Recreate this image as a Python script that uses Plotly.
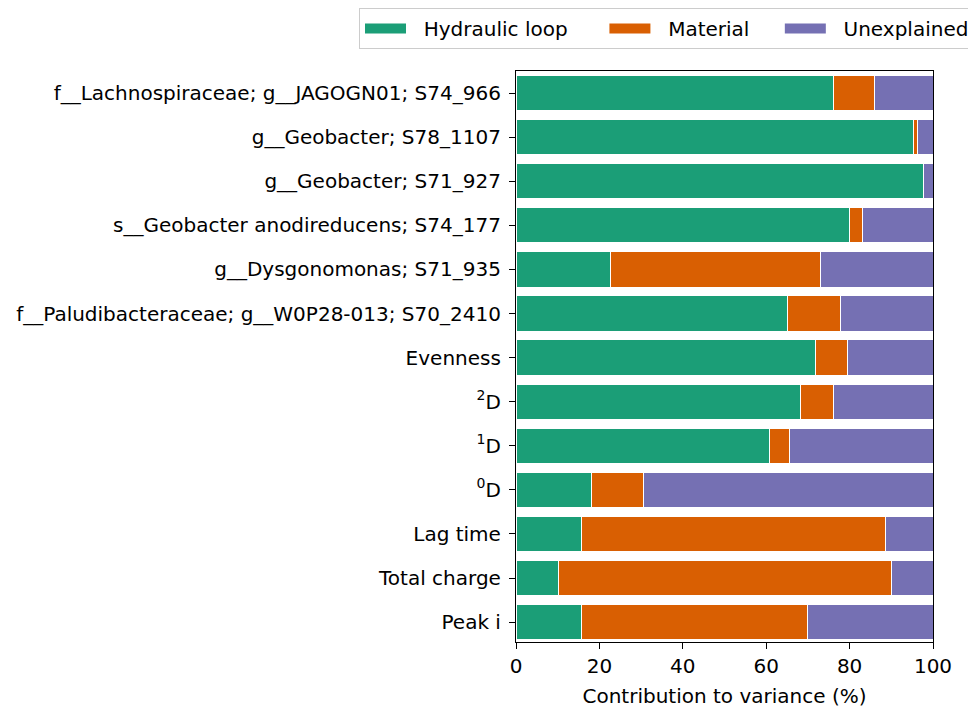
import plotly.graph_objects as go

labels = [
    "f__Lachnospiraceae; g__JAGOGN01; S74_966",
    "g__Geobacter; S78_1107",
    "g__Geobacter; S71_927",
    "s__Geobacter anodireducens; S74_177",
    "g__Dysgonomonas; S71_935",
    "f__Paludibacteraceae; g__W0P28-013; S70_2410",
    "Evenness",
    "<sup>2</sup>D",
    "<sup>1</sup>D",
    "<sup>0</sup>D",
    "Lag time",
    "Total charge",
    "Peak i",
]
hydraulic = [76.2, 95.4, 97.8, 80.0, 22.6, 65.0, 71.8, 68.2, 60.7, 18.0, 15.7, 10.2, 15.7]
material = [9.8, 1.0, 0.0, 3.2, 50.5, 12.8, 7.6, 8.0, 4.8, 12.6, 72.8, 79.9, 54.1]
unexplained = [round(100 - h - m, 1) for h, m in zip(hydraulic, material)]

series_names = ["Hydraulic loop", "Material", "Unexplained"]
colors = ["#1b9e77", "#d95f02", "#7570b3"]
pads = ["\u00a0" * 5, "\u00a0" * 4, ""]

fig = go.Figure()
for name, vals, c, p in zip(series_names, [hydraulic, material, unexplained], colors, pads):
    fig.add_trace(go.Bar(
        y=labels, x=vals, name=name, orientation="h",
        marker=dict(color=c, line=dict(color="white", width=1)),
        width=0.8, showlegend=False, legendgroup=name,
    ))
    # legend-only entry: draws a wide swatch like the reference legend
    fig.add_trace(go.Scatter(
        x=[None], y=[None], mode="lines", name="\u00a0\u00a0" + name + p,
        line=dict(color=c, width=14), legendgroup=name, hoverinfo="skip",
    ))

# page body has an 8px default margin, so the figure is 8px smaller each way
fig.update_layout(
    barmode="stack",
    width=968, height=700,
    margin=dict(l=508, r=43, t=63, b=66, autoexpand=False),
    paper_bgcolor="white", plot_bgcolor="white",
    font=dict(family="DejaVu Sans", size=20, color="black"),
    legend=dict(
        orientation="h", x=-0.3765, xanchor="left", y=1.1103, yanchor="top",
        bgcolor="white", bordercolor="#cccccc", borderwidth=1,
        font=dict(size=20), traceorder="normal", itemwidth=41,
    ),
    xaxis=dict(
        range=[0, 100], tickvals=[0, 20, 40, 60, 80, 100],
        showline=True, linecolor="black", linewidth=1.2, mirror=True,
        ticks="outside", ticklen=6, tickcolor="black",
        showgrid=False, zeroline=False,
        title=dict(text="Contribution to variance (%)", font=dict(size=20), standoff=13),
        tickfont=dict(size=20),
    ),
    yaxis=dict(
        categoryorder="array", categoryarray=labels[::-1],
        range=[-0.45, 12.5],
        showline=True, linecolor="black", linewidth=1.2, mirror=True,
        ticks="outside", ticklen=6, tickcolor="black", ticklabelstandoff=4,
        showgrid=False, tickfont=dict(size=20),
    ),
)

fig.write_html("out.html")
